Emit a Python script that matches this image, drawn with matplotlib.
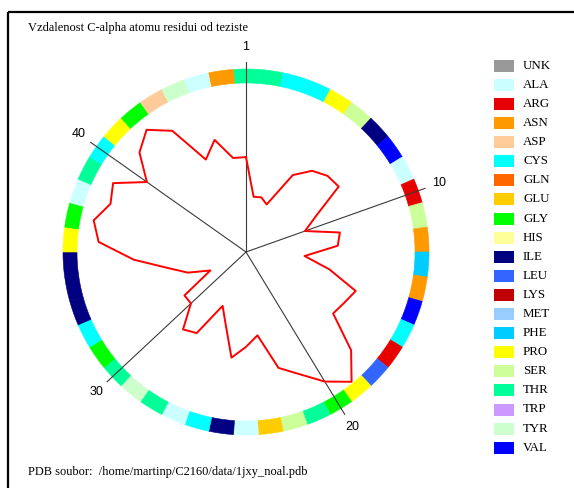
import numpy as np
import matplotlib
matplotlib.use("Agg")
import matplotlib.pyplot as plt
from matplotlib.patches import Rectangle

# residue sequence (1jxy) and C-alpha distance from centroid
residues = ["THR", "THR", "CYS", "CYS", "PRO", "SER", "ILE", "VAL", "ALA", "ARG",
            "SER", "ASN", "PHE", "ASN", "VAL", "CYS", "ARG", "LEU", "PRO", "GLY",
            "THR", "SER", "GLU", "ALA", "ILE", "CYS", "ALA", "THR", "TYR", "THR",
            "GLY", "CYS", "ILE", "ILE", "ILE", "PRO", "GLY", "ALA", "THR", "CYS",
            "PRO", "GLY", "ASP", "TYR", "ALA", "ASN"]
distance = [9.7, 5.7, 5.8, 5.3, 9.2, 10.7, 11.4, 11.6, 8.1, 6.4,
            9.8, 9.4, 6.0, 8.7, 11.9, 11.3, 10.9, 14.7, 17.1, 15.5,
            13.6, 12.3, 8.6, 9.7, 10.9, 7.7, 6.0, 9.7, 10.2, 7.7,
            7.7, 4.1, 6.3, 8.1, 11.5, 15.1, 15.9, 14.7, 15.3, 12.4,
            14.9, 16.1, 14.5, 10.3, 11.9, 9.7]
tick_residues = [1, 10, 20, 30, 40]

aa_names = ["UNK", "ALA", "ARG", "ASN", "ASP", "CYS", "GLN", "GLU", "GLY", "HIS", "ILE",
            "LEU", "LYS", "MET", "PHE", "PRO", "SER", "THR", "TRP", "TYR", "VAL"]
aa_colors = ["#999999", "#CCFFFF", "#E60000", "#FF9900", "#FFCC99", "#00FFFF", "#FF6600",
             "#FFCC00", "#00FF00", "#FFFF99", "#000080", "#3366FF", "#C00000", "#99CCFF",
             "#00CCFF", "#FFFF00", "#CCFF99", "#00FF99", "#CC99FF", "#CCFFCC", "#0000FF"]
palette = dict(zip(aa_names, aa_colors))

W, H = 574, 488
CX, CY = 246, 252
R_AX = 215
R_IN, R_OUT = 169, 183
R_SPOKE, R_LABEL = 190, 205

serif = ["Liberation Serif", "DejaVu Serif"]

fig = plt.figure(figsize=(W / 100, H / 100), dpi=100)

# overlay in pixel coordinates: frame, title, legend, footer
bg = fig.add_axes([0, 0, 1, 1])
bg.set_xlim(0, W)
bg.set_ylim(H, 0)
bg.set_axis_off()
bg.plot([8, W + 5], [12, 12], color="black", lw=1.6, solid_capstyle="butt")
bg.plot([8, 8], [12, H + 5], color="black", lw=1.6, solid_capstyle="butt")
bg.text(28, 28, "Vzdalenost C-alpha atomu residui od teziste", family=serif,
        fontsize=8.9, ha="left", va="center")
bg.text(28, 472, "PDB soubor:  /home/martinp/C2160/data/1jxy_noal.pdb", family=serif,
        fontsize=8.9, ha="left", va="center")

for i, (name, col) in enumerate(zip(aa_names, aa_colors)):
    y = 65.7 + i * 19.1
    bg.add_patch(Rectangle((494, y - 6), 20, 12, facecolor=col, edgecolor="none"))
    bg.text(523, y, name, family=serif, fontsize=9.3, ha="left", va="center")

# radial plot
ax = fig.add_axes([(CX - R_AX) / W, (H - CY - R_AX) / H, 2 * R_AX / W, 2 * R_AX / H],
                  projection="polar")
ax.set_theta_zero_location("N")
ax.set_theta_direction(-1)
ax.set_rlim(0, R_AX)
ax.set_axis_off()

n = len(residues)
theta = np.arange(n) * 2 * np.pi / n
ring_cols = [palette[r] for r in residues]
ax.bar(theta, R_OUT - R_IN, bottom=R_IN, width=2 * np.pi / n, color=ring_cols,
       edgecolor=ring_cols, linewidth=0.4, align="center")

for t in tick_residues:
    th = theta[t - 1]
    ax.plot([th, th], [0, R_SPOKE], color="#3a3a3a", lw=0.8)
    ax.text(th, R_LABEL, str(t), family=["Liberation Sans", "DejaVu Sans"], fontsize=9,
            ha="center", va="center")

scale = 167.3 / max(distance)
r = np.array(distance) * scale
ax.plot(np.append(theta, theta[0]), np.append(r, r[0]), color="#FF0000", lw=1.4)

fig.savefig("out.png", dpi=100)
